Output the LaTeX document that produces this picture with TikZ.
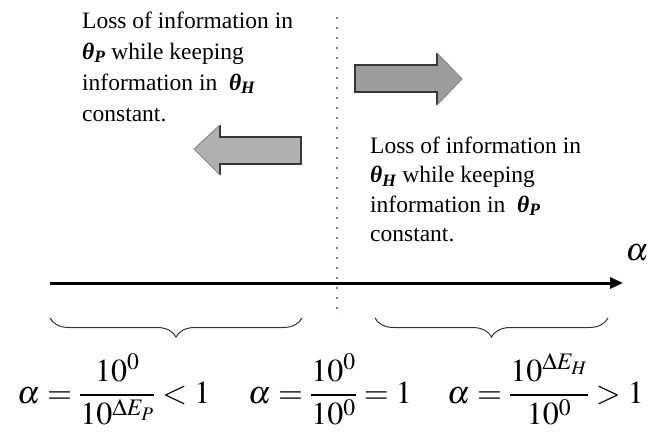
\documentclass[tikz,border=0pt]{standalone}
\usepackage{mathptmx}
\usepackage{fontspec}
\setmainfont{Liberation Serif}
\usetikzlibrary{arrows.meta,decorations.pathreplacing}
\definecolor{lgray}{HTML}{B0B0B0}
\definecolor{mgray}{HTML}{9C9C9C}
\definecolor{edgedark}{HTML}{383838}
\definecolor{edgelight}{HTML}{8A8A8A}
\newcommand\thb[1]{{\bfseries\itshape θ}\textsubscript{\bfseries\itshape #1}}
\begin{document}
\begin{tikzpicture}[x=1pt,y=-1pt,
  infotext/.style={anchor=north west, inner sep=0pt, align=left, font=\fontsize{23.5}{31}\selectfont},
  formula/.style={anchor=base west, inner sep=0pt, font=\fontsize{32}{38}\selectfont},
  shaftedge/.style={draw=edgedark, line width=1.3pt, line join=miter},
  headedge/.style={draw=edgelight, line width=1pt},
  bracestyle/.style={draw=black!80, line width=1pt, decorate, decoration={brace, mirror, amplitude=19pt}}]
\useasboundingbox (0,0) rectangle (659,432);
% dotted separator
\coordinate (dtop) at (337,17);
\coordinate (dbot) at (337,317);
\draw[gray, line width=1.6pt, dash pattern=on 1.6pt off 8.4pt] (dtop) -- (dbot);
% left block arrow
\fill[lgray] (194,149) -- (220,125) -- (220,137) -- (301,137) -- (301,164) -- (220,164) -- (220,175) -- cycle;
\draw[shaftedge] (220,125) -- (220,137) -- (301,137) -- (301,164) -- (220,164) -- (220,175);
\draw[headedge] (220,125) -- (194,149) -- (220,175);
% right block arrow
\fill[mgray] (355,65) -- (437,65) -- (437,53) -- (462,79) -- (437,105) -- (437,92) -- (355,92) -- cycle;
\draw[shaftedge] (437,53) -- (437,65) -- (355,65) -- (355,92) -- (437,92) -- (437,105);
\draw[headedge] (437,53) -- (462,79) -- (437,105);
% texts
\node[infotext] (lefttext) at (82,11.3) {Loss of information in\\ \thb{P} while keeping\\ information in \ \thb{H}\\ constant.};
\node[infotext, font=\fontsize{23.5}{29.5}\selectfont] (righttext) at (370,136.3) {Loss of information in\\ \thb{H} while keeping\\ information in \ \thb{P}\\ constant.};
% axis
\coordinate (axL) at (50,283);
\coordinate (axR) at (623,283);
\draw[line width=3pt, -{Triangle[length=13pt,width=11pt]}] (axL) -- (axR);
\node[font=\fontsize{32}{38}\selectfont, inner sep=0pt] (alab) at (637,253) {$\alpha$};
% braces
\coordinate (b1s) at (50,318);
\coordinate (b1e) at (302,318);
\coordinate (b2s) at (375,318);
\coordinate (b2e) at (608,318);
\draw[bracestyle] (b1s) -- (b1e);
\draw[bracestyle] (b2s) -- (b2e);
% formulas
\node[formula] (f1) at (17,403) {$\displaystyle \alpha=\frac{10^0}{10^{\Delta E_P}}<1$};
\node[formula] (f2) at (248,403) {$\displaystyle \alpha=\frac{10^0}{10^0}=1$};
\node[formula] (f3) at (447,403) {$\displaystyle \alpha=\frac{10^{\Delta E_H}}{10^0}>1$};
\end{tikzpicture}
\end{document}
